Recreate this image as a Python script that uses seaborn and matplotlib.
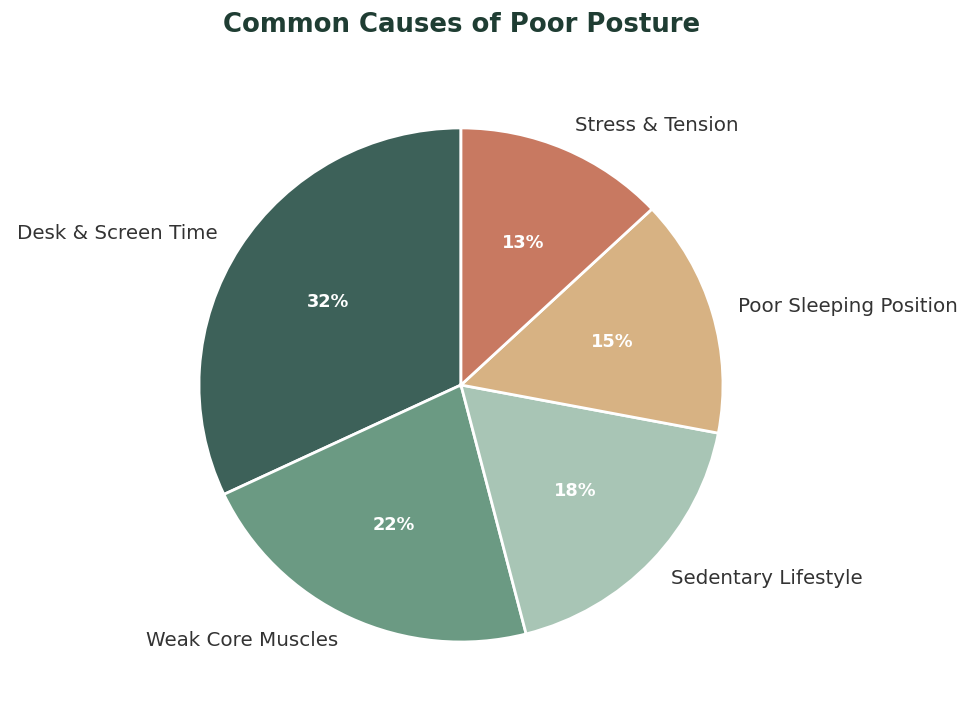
import matplotlib
matplotlib.use("Agg")
import matplotlib.pyplot as plt
import seaborn as sns

causes = ["Desk & Screen Time", "Weak Core Muscles", "Sedentary Lifestyle",
          "Poor Sleeping Position", "Stress & Tension"]
shares = [32, 22, 18, 15, 13]
colors = ["#3d6159", "#6b9a83", "#a8c5b5", "#d7b283", "#c87961"]

sns.set_theme(style="white")
plt.rcParams["font.family"] = ["DejaVu Sans"]

fig = plt.figure(figsize=(9.75, 7.22), dpi=100)
ax = fig.add_axes([0.1369, 0.0218, 0.6718, 0.89])

wedges, texts, autotexts = ax.pie(
    shares, labels=causes, colors=colors, startangle=90, counterclock=True,
    autopct="%1.0f%%", pctdistance=0.6, labeldistance=1.1,
    wedgeprops=dict(edgecolor="white", linewidth=2),
    textprops=dict(fontsize=14.3, color="#333333"))
for t in autotexts:
    t.set_color("white")
    t.set_fontweight("bold")
    t.set_fontsize(12.8)

ax.set_xlim(-1.25, 1.25)
ax.set_ylim(-1.25, 1.25)
ax.set_aspect("auto")
ax.axis("off")

fig.text(0.473, 0.965, "Common Causes of Poor Posture", ha="center", va="center",
         fontsize=18.7, fontweight="bold", color="#1f3d33")

fig.savefig("out.png", dpi=100, facecolor="white")
